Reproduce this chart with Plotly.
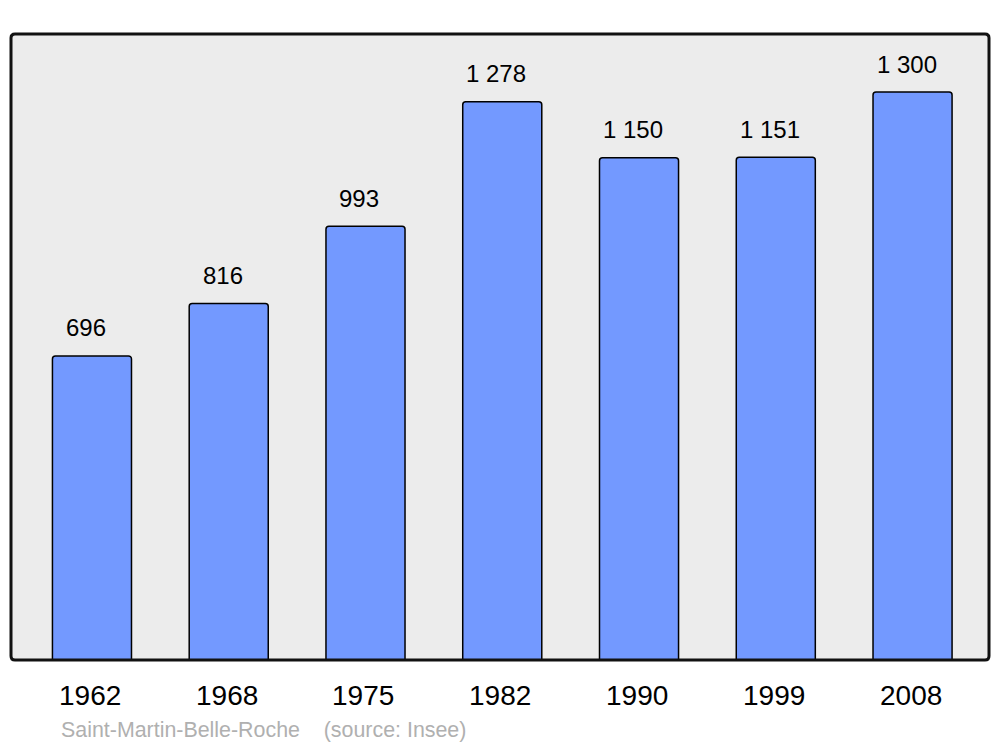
import plotly.graph_objects as go

years = ["1962", "1968", "1975", "1982", "1990", "1999", "2008"]
population = [696, 816, 993, 1278, 1150, 1151, 1300]
value_labels = ["696", "816", "993", "1 278", "1 150", "1 151", "1 300"]
source_text = "Saint-Martin-Belle-Roche    (source: Insee)"

W, H = 1000, 747
L, R, T, B = 11, 11, 34, 87
pw, ph = W - L - R, H - T - B

fig = go.Figure()
idx = list(range(len(years)))
fig.add_trace(go.Bar(
    x=idx, y=population, width=0.578,
    marker=dict(color="#7399FF", line=dict(color="#000000", width=1.5), cornerradius=3),
    hoverinfo="skip",
))

font = "Liberation Sans, Arial, sans-serif"
for i, (v, t) in enumerate(zip(population, value_labels)):
    fig.add_annotation(x=i, y=v, text=t, showarrow=False, xshift=-6, yshift=28,
                       yanchor="middle", font=dict(size=24, color="#000", family=font))
for i, yr in enumerate(years):
    fig.add_annotation(x=i, y=0, yref="paper", text=yr, showarrow=False, xshift=-2, yshift=-35,
                       yanchor="middle", font=dict(size=28, color="#000", family=font))
fig.add_annotation(x=(59 - L) / pw, xref="paper", y=-(730 - 660) / ph, yref="paper",
                   text=source_text.replace("    ", "&nbsp;&nbsp;&nbsp;&nbsp;"), showarrow=False,
                   xanchor="left", yanchor="middle", font=dict(size=21.4, color="#B0B0B0", family=font))

# rounded frame
r = 4 / pw; ry = 4 / ph
path = (f"M {r},0 L {1-r},0 Q 1,0 1,{ry} L 1,{1-ry} Q 1,1 {1-r},1 L {r},1 Q 0,1 0,{1-ry} "
        f"L 0,{ry} Q 0,0 {r},0 Z")
fig.add_shape(type="path", xref="paper", yref="paper", path=path,
              line=dict(color="#111", width=3), layer="above")

fig.update_layout(
    width=W, height=H, margin=dict(l=L, r=R, t=T, b=B),
    paper_bgcolor="white", plot_bgcolor="#ECECEC", showlegend=False,
    xaxis=dict(range=[-0.592, 6.559], showticklabels=False, showgrid=False, zeroline=False, ticks=""),
    yaxis=dict(range=[0, 1433], showticklabels=False, showgrid=False, zeroline=False, ticks=""),
)
fig.write_html("out.html", config={"displayModeBar": False},
               post_script="document.body.style.margin='0';document.body.style.overflow='hidden';")
